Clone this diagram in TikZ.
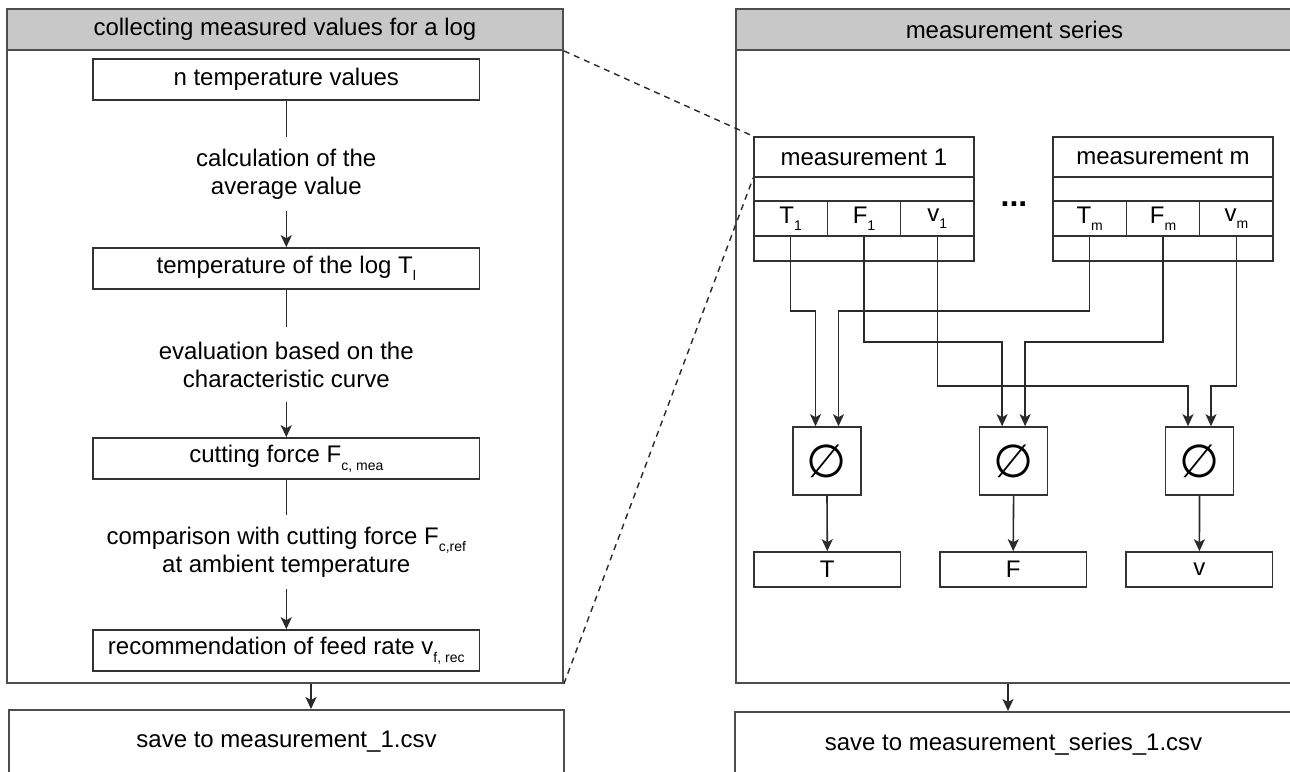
\documentclass[tikz,border=0pt]{standalone}
\usepackage{fontspec}
\setmainfont{Liberation Sans}
\newfontfamily\dejavu{DejaVu Sans}
\usetikzlibrary{arrows.meta}
\definecolor{cline}{HTML}{4E4E4E}
\definecolor{bline}{HTML}{333333}
\definecolor{wline}{HTML}{2A2A2A}
\definecolor{hdrfill}{HTML}{C8C8C8}
\newcommand{\lowsub}[1]{\raisebox{-7.5pt}{\fontsize{14}{14}\selectfont #1}}
\tikzset{
  every node/.style={font=\fontsize{24}{28}\selectfont, inner sep=0pt, text=black},
  container/.style={draw=cline, line width=1.9pt, minimum width=556pt, minimum height=674pt},
  hdr/.style={draw=cline, fill=hdrfill, line width=1.9pt, minimum width=556pt, minimum height=41pt},
  lbox/.style={draw=bline, line width=1.6pt, fill=white, minimum width=386.5pt, minimum height=41pt},
  lbl/.style={align=center, minimum height=74pt, minimum width=380pt},
  cell/.style={draw=bline, line width=1.6pt, fill=white, minimum width=73.33pt, minimum height=35pt},
  mrow/.style={draw=bline, line width=1.6pt, fill=white, minimum width=220pt},
  avgbox/.style={draw=bline, line width=1.6pt, fill=white, minimum width=68pt, minimum height=68pt},
  avgsym/.style={font=\dejavu\fontsize{46}{46}\selectfont},
  resbox/.style={draw=bline, line width=1.6pt, fill=white, minimum width=146.5pt, minimum height=35pt},
  savebox/.style={draw=cline, line width=1.9pt, minimum height=64pt},
  wire/.style={draw=wline, line width=1.6pt},
  arr/.style={wire, -{Stealth[length=12pt,width=11pt,inset=3pt]}},
  dashconn/.style={draw=wline, line width=1.4pt, dash pattern=on 6pt off 5pt},
}
\begin{document}
\begin{tikzpicture}[x=1pt,y=-1pt]
\useasboundingbox (0,0) rectangle (1290,771);
\fill[white] (0,0) rectangle (1290,771);

% ---------- left container ----------
\node[container, anchor=north west] (leftC) at (6,8) {};
\node[hdr, anchor=north west] (leftH) at (6,8) {collecting measured values for a log};

\node[lbox] (b1) at (286.3,79.5) {n temperature values};
\node[lbl]  (l1) at (286.3,174) {calculation of the\\average value};
\node[lbox] (b2) at (286.3,268.5) {temperature of the log T\lowsub{l}};
\node[lbl]  (l2) at (286.3,364.5) {evaluation based on the\\characteristic curve};
\node[lbox] (b3) at (286.3,458.5) {cutting force F\lowsub{c, mea}};
\node[lbl]  (l3) at (286.3,552) {comparison with cutting force F\lowsub{c,ref}\\at ambient temperature};
\node[lbox] (b4) at (286.3,650.5) {recommendation of feed rate v\lowsub{f, rec}};

\draw[wire] (b1.south) -- (l1.north);
\draw[arr]  (l1.south) -- (b2.north);
\draw[wire] (b2.south) -- (l2.north);
\draw[arr]  (l2.south) -- (b3.north);
\draw[wire] (b3.south) -- (l3.north);
\draw[arr]  (l3.south) -- (b4.north);

% ---------- right container ----------
\node[container, minimum width=557pt, anchor=north west] (rightC) at (735,8) {};
\node[hdr, minimum width=557pt, anchor=north west] (rightH) at (735,8) {measurement series};

% measurement 1
\node[mrow, minimum height=40pt] (m1t) at (864,157) {measurement 1};
\node[mrow, minimum height=24pt] (m1e) at (864,189) {};
\node[cell] (T1) at (790.67,218.5) {T\lowsub{1}};
\node[cell] (F1) at (864,218.5) {F\lowsub{1}};
\node[cell] (V1) at (937.33,218.5) {v\lowsub{1}};
\node[mrow, minimum height=25pt] (m1b) at (864,248.5) {};

% measurement m
\node[mrow, minimum height=40pt] (mmt) at (1163,157) {measurement m};
\node[mrow, minimum height=24pt] (mme) at (1163,189) {};
\node[cell] (Tm) at (1089.67,218.5) {T\lowsub{m}};
\node[cell] (Fm) at (1163,218.5) {F\lowsub{m}};
\node[cell] (Vm) at (1236.33,218.5) {v\lowsub{m}};
\node[mrow, minimum height=25pt] (mmb) at (1163,248.5) {};

\node[font=\fontsize{32}{32}\bfseries, anchor=base] (dots) at (1014,206) {...};

% average boxes
\node[avgbox] (aT) at (827,461) {};
\node[avgbox] (aF) at (1013.6,461) {};
\node[avgbox] (aV) at (1199.5,461) {};
\node[avgsym] at (aT.center) {∅};
\node[avgsym] at (aF.center) {∅};
\node[avgsym] at (aV.center) {∅};

% result boxes
\node[resbox] (rT) at (827.3,569.5) {T};
\node[resbox] (rF) at (1013.2,569.5) {F};
\node[resbox] (rV) at (1199.4,569.5) {v};

\coordinate (yT) at (0,311);
\coordinate (yF) at (0,342);
\coordinate (yV) at (0,386);

\draw[arr] (T1.south) -- (T1.south |- yT) -| ([xshift=-11.5pt]aT.north);
\draw[arr] (Tm.south) -- (Tm.south |- yT) -| ([xshift=11.5pt]aT.north);
\draw[arr] (F1.south) -- (F1.south |- yF) -| ([xshift=-11.5pt]aF.north);
\draw[arr] (Fm.south) -- (Fm.south |- yF) -| ([xshift=11.5pt]aF.north);
\draw[arr] (V1.south) -- (V1.south |- yV) -| ([xshift=-11.5pt]aV.north);
\draw[arr] (Vm.south) -- (Vm.south |- yV) -| ([xshift=11.5pt]aV.north);

\draw[arr] (aT.south) -- (rT.north);
\draw[arr] (aF.south) -- (rF.north);
\draw[arr] (aV.south) -- (rV.north);

% dashed zoom lines
\draw[dashconn] (leftH.south east) -- (m1t.north west);
\draw[dashconn] (leftC.south east) -- (m1t.south west);

% ---------- save boxes ----------
\node[savebox, minimum width=555pt] (saveL) at (286.5,742) {save to measurement\_1.csv};
\node[savebox, minimum width=557pt] (saveR) at (1013.5,744) {save to measurement\_series\_1.csv};

\coordinate (aL) at (311,0);
\coordinate (aR) at (1008,0);
\draw[arr] (leftC.south -| aL) -- (saveL.north -| aL);
\draw[arr] (rightC.south -| aR) -- (saveR.north -| aR);
\end{tikzpicture}
\end{document}
